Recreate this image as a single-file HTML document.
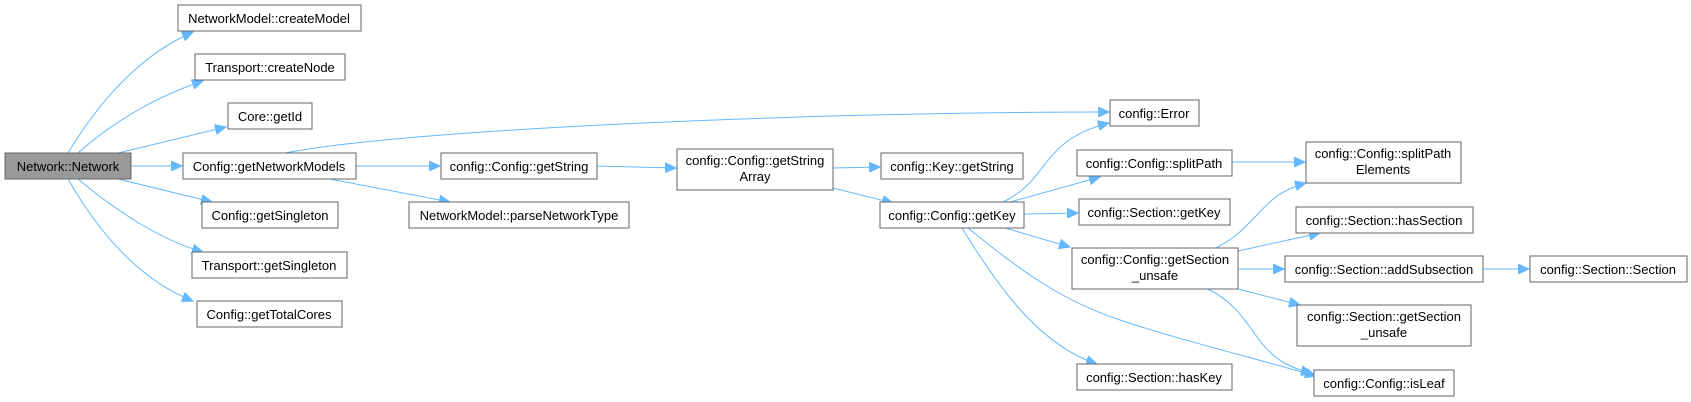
<!DOCTYPE html>
<html><head><meta charset="utf-8"><style>
html,body{margin:0;padding:0;background:#fff;}
svg{display:block;}
text{font-family:"Liberation Sans",Helvetica,Arial,sans-serif;font-size:13px;fill:#000;text-anchor:middle;}
rect{fill:#fff;stroke:#666;stroke-width:1;}
path{fill:none;stroke:#63b8ff;stroke-width:1;}
</style></head><body>
<svg width="1691" height="402" viewBox="0 0 1691 402" xmlns="http://www.w3.org/2000/svg">
<defs><marker id="a" markerUnits="userSpaceOnUse" markerWidth="12" markerHeight="10" refX="11" refY="5" orient="auto"><path d="M0,0 L11,5 L0,10 z" style="fill:#63b8ff;stroke:#63b8ff"/></marker></defs>
<g marker-end="url(#a)">
<path d="M68,153 C100,100 140,55 193,32"/>
<path d="M78,153 C115,120 160,95 203,81"/>
<path d="M118,153 L226,127"/>
<path d="M131,166 L182,166"/>
<path d="M118,179 L212,202"/>
<path d="M78,179 C115,210 160,240 203,252"/>
<path d="M68,179 C100,235 140,280 193,301"/>
<path d="M285,153 C400,130 800,112 1109,112"/>
<path d="M356,166 L440,166"/>
<path d="M330,179 L450,202"/>
<path d="M597,166 L676,168"/>
<path d="M833,168 L880,167"/>
<path d="M833,188 L893,203"/>
<path d="M1003,202 C1050,180 1040,140 1109,123"/>
<path d="M1010,202 L1100,177"/>
<path d="M1024,214 L1078,213"/>
<path d="M1005,228 L1070,247"/>
<path d="M962,228 C1000,290 1040,345 1097,364"/>
<path d="M968,228 C1020,270 1060,300 1120,320 C1180,340 1250,357 1316,376"/>
<path d="M1216,248 C1260,225 1260,195 1306,183"/>
<path d="M1238,251 L1320,233"/>
<path d="M1238,269 L1284,269"/>
<path d="M1238,289 L1300,305"/>
<path d="M1208,289 C1260,315 1250,360 1312,373"/>
<path d="M1232,162 L1305,162"/>
<path d="M1483,269 L1529,269"/>
</g>
<rect x="5" y="153" width="126" height="26" style="fill:#999"/><text x="68" y="171">Network::Network</text>
<rect x="178" y="5" width="183" height="26"/><text x="269" y="23">NetworkModel::createModel</text>
<rect x="195" y="54" width="150" height="26"/><text x="270" y="72">Transport::createNode</text>
<rect x="228" y="103" width="84" height="26"/><text x="270" y="121">Core::getId</text>
<rect x="183" y="153" width="173" height="26"/><text x="269" y="171">Config::getNetworkModels</text>
<rect x="202" y="202" width="136" height="26"/><text x="270" y="220">Config::getSingleton</text>
<rect x="192" y="252" width="155" height="26"/><text x="269" y="270">Transport::getSingleton</text>
<rect x="197" y="301" width="145" height="26"/><text x="269" y="319">Config::getTotalCores</text>
<rect x="441" y="153" width="156" height="26"/><text x="519" y="171">config::Config::getString</text>
<rect x="409" y="202" width="220" height="26"/><text x="519" y="220">NetworkModel::parseNetworkType</text>
<rect x="677" y="149" width="156" height="41"/><text x="755" y="165">config::Config::getString</text><text x="755" y="181">Array</text>
<rect x="881" y="153" width="142" height="26"/><text x="952" y="171">config::Key::getString</text>
<rect x="880" y="202" width="144" height="26"/><text x="952" y="220">config::Config::getKey</text>
<rect x="1110" y="100" width="89" height="26"/><text x="1154" y="118">config::Error</text>
<rect x="1077" y="150" width="155" height="26"/><text x="1154" y="168">config::Config::splitPath</text>
<rect x="1079" y="199" width="151" height="26"/><text x="1154" y="217">config::Section::getKey</text>
<rect x="1072" y="248" width="166" height="41"/><text x="1155" y="264">config::Config::getSection</text><text x="1155" y="280">_unsafe</text>
<rect x="1077" y="364" width="155" height="26"/><text x="1154" y="382">config::Section::hasKey</text>
<rect x="1306" y="142" width="155" height="41"/><text x="1383" y="158">config::Config::splitPath</text><text x="1383" y="174">Elements</text>
<rect x="1296" y="207" width="177" height="26"/><text x="1384" y="225">config::Section::hasSection</text>
<rect x="1285" y="256" width="198" height="26"/><text x="1384" y="274">config::Section::addSubsection</text>
<rect x="1530" y="256" width="157" height="26"/><text x="1608" y="274">config::Section::Section</text>
<rect x="1297" y="305" width="174" height="41"/><text x="1384" y="321">config::Section::getSection</text><text x="1384" y="337">_unsafe</text>
<rect x="1314" y="370" width="140" height="26"/><text x="1384" y="388">config::Config::isLeaf</text>
</svg>
</body></html>
